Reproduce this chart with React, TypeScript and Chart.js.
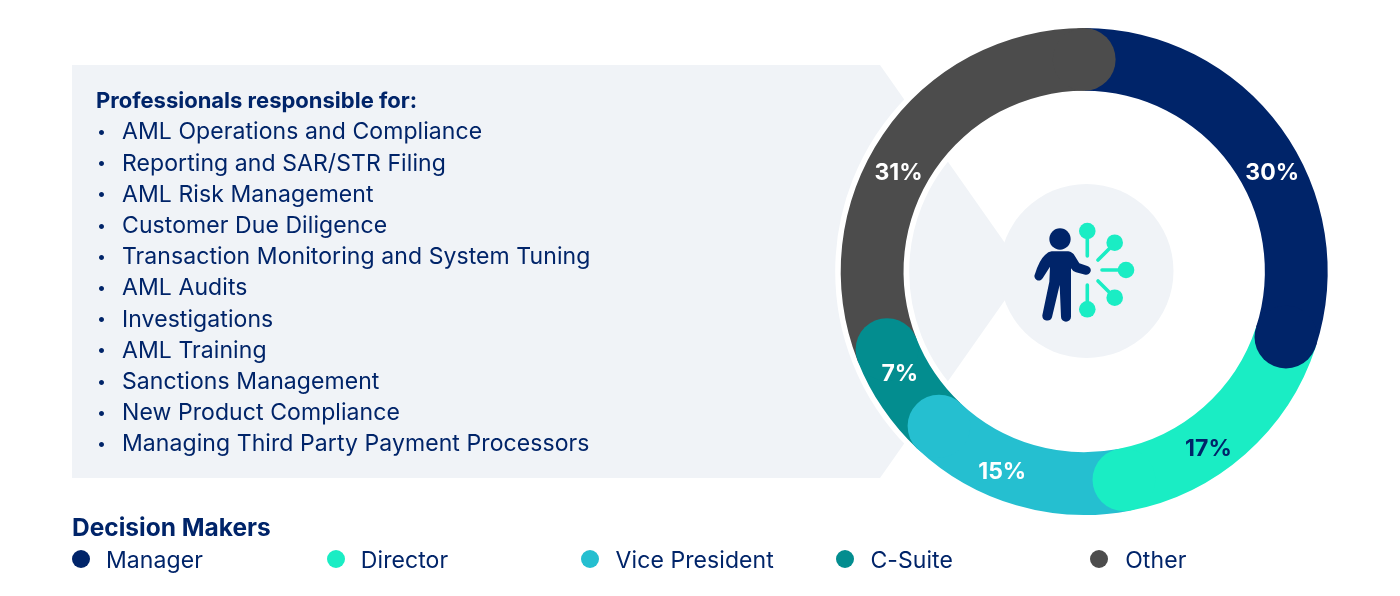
import React, { useEffect, useRef } from "react";
import { Chart, registerables } from "chart.js";

Chart.register(...registerables);

const categories = ["Manager", "Director", "Vice President", "C-Suite", "Other"];
const shares = [30, 17, 15, 7, 31];
const sliceColors = ["#002469", "#1AEDC4", "#25BFD0", "#038D8F", "#4C4C4C"];
const labelColors = ["#FFFFFF", "#002469", "#FFFFFF", "#FFFFFF", "#FFFFFF"];
const labelAlong = [0.573, 0.6, 0.615, 0.72, 0.448];
const labelRadial = [1, 3, 3, -2, -1];
const listTitle = "Professionals responsible for:";
const listItems = [
  "AML Operations and Compliance",
  "Reporting and SAR/STR Filing",
  "AML Risk Management",
  "Customer Due Diligence",
  "Transaction Monitoring and System Tuning",
  "AML Audits",
  "Investigations",
  "AML Training",
  "Sanctions Management",
  "New Product Compliance",
  "Managing Third Party Payment Processors",
];
const legendTitle = "Decision Makers";
const NAVY = "#002469";
const MINT = "#1AEDC4";
const PANEL = "#F0F3F7";
const FONT = "Inter, sans-serif";

const capsAndLabels = {
  id: "capsAndLabels",
  afterDatasetsDraw(chart: any) {
    const ctx = chart.ctx;
    const arcs = chart.getDatasetMeta(0).data;
    arcs.forEach((arc: any, i: number) => {
      const mid = (arc.innerRadius + arc.outerRadius) / 2;
      const half = (arc.outerRadius - arc.innerRadius) / 2;
      ctx.save();
      ctx.fillStyle = sliceColors[i];
      ctx.beginPath();
      ctx.arc(arc.x + Math.cos(arc.endAngle) * mid, arc.y + Math.sin(arc.endAngle) * mid, half, 0, Math.PI * 2);
      ctx.fill();
      ctx.restore();
    });
    arcs.forEach((arc: any, i: number) => {
      const mid = (arc.innerRadius + arc.outerRadius) / 2 + labelRadial[i];
      const a = arc.startAngle + (arc.endAngle - arc.startAngle) * labelAlong[i];
      ctx.save();
      ctx.fillStyle = labelColors[i];
      ctx.font = `700 23px ${FONT}`;
      ctx.textAlign = "center";
      ctx.textBaseline = "middle";
      ctx.fillText(`${shares[i]}%`, arc.x + Math.cos(a) * mid, arc.y + Math.sin(a) * mid + 1.5);
      ctx.restore();
    });
  },
};

const abs = (left: number, top: number): React.CSSProperties => ({
  position: "absolute",
  left,
  top,
  whiteSpace: "nowrap",
});

export default function App() {
  const ref = useRef<HTMLCanvasElement | null>(null);
  useEffect(() => {
    document.body.style.margin = "0";
    document.body.style.overflow = "hidden";
    const chart = new Chart(ref.current as HTMLCanvasElement, {
      type: "doughnut",
      data: {
        labels: categories,
        datasets: [{ data: shares, backgroundColor: sliceColors, borderWidth: 0 }],
      },
      options: {
        animation: false,
        responsive: false,
        cutout: "74.2%",
        layout: { padding: { left: 840.7, right: 72.3, top: 27.75, bottom: 80.75 } },
        plugins: { legend: { display: false }, tooltip: { enabled: false } },
      },
      plugins: [capsAndLabels],
    } as any);
    return () => chart.destroy();
  }, []);

  return (
    <div style={{ position: "absolute", left: 0, top: 0, width: 1400, height: 596, background: "#fff", overflow: "hidden", fontFamily: FONT, color: NAVY }}>
      <svg width={1400} height={596} style={{ position: "absolute", left: 0, top: 0 }}>
        <polygon points="72,65 880,65 1025,271.5 880,478 72,478" fill={PANEL} />
        <circle cx={1084.2} cy={271.5} r={212} fill="none" stroke="#fff" strokeWidth={74} />
        <circle cx={1086.5} cy={271} r={87} fill={PANEL} />
        <g stroke={MINT} strokeWidth={3.6} strokeLinecap="round" fill={MINT}>
          <line x1={1087.3} y1={231} x2={1087.3} y2={256} />
          <line x1={1115} y1={243} x2={1098} y2={260} />
          <line x1={1126} y1={270} x2={1102} y2={270} />
          <line x1={1115} y1={298} x2={1098} y2={281} />
          <line x1={1087.3} y1={309} x2={1087.3} y2={285} />
          <g stroke="none">
            <circle cx={1087.3} cy={231} r={8.3} />
            <circle cx={1114.7} cy={242.7} r={8.3} />
            <circle cx={1126} cy={270} r={8.3} />
            <circle cx={1114.7} cy={297.7} r={8.3} />
            <circle cx={1087.3} cy={309.3} r={8.3} />
          </g>
        </g>
        <g transform="translate(1000 200) scale(0.3333)" fill={NAVY}>
          <circle cx={180} cy={117} r={32} />
          <path d="M155 154 H205 Q218 156 226 170 L238 190 L262 198 A13 13 0 0 1 256 224 L228 217 Q218 214 213 205 L213 350 A15 15 0 0 1 183 350 L179 255 L156 352 A15 15 0 0 1 127 346 L148 245 L150 200 L128 235 A13 13 0 0 1 105 222 Q118 180 135 165 Q145 155 155 154 Z" />
        </g>
      </svg>
      <canvas ref={ref} width={1400} height={596} style={{ position: "absolute", left: 0, top: 0 }} />
      <div style={{ ...abs(96, 85), fontSize: 22, fontWeight: 700, lineHeight: "31px" }}>{listTitle}</div>
      {listItems.map((t, i) => (
        <React.Fragment key={t}>
          <div style={{ ...abs(97, 116 + i * 31.2), fontSize: 16, lineHeight: "31px" }}>•</div>
          <div style={{ ...abs(122, 116.3 + i * 31.2), fontSize: 23, letterSpacing: 0.08, lineHeight: "31px" }}>{t}</div>
        </React.Fragment>
      ))}
      <div style={{ ...abs(72, 511.5), fontSize: 24.5, fontWeight: 700, lineHeight: "31px" }}>{legendTitle}</div>
      {categories.map((c, i) => (
        <React.Fragment key={c}>
          <div style={{ position: "absolute", left: 72 + i * 254.6, top: 550, width: 18, height: 18, borderRadius: 9, background: sliceColors[i] }} />
          <div style={{ ...abs(106 + i * 254.8, 544.7), fontSize: 23, letterSpacing: 0.08, lineHeight: "31px" }}>{c}</div>
        </React.Fragment>
      ))}
    </div>
  );
}
